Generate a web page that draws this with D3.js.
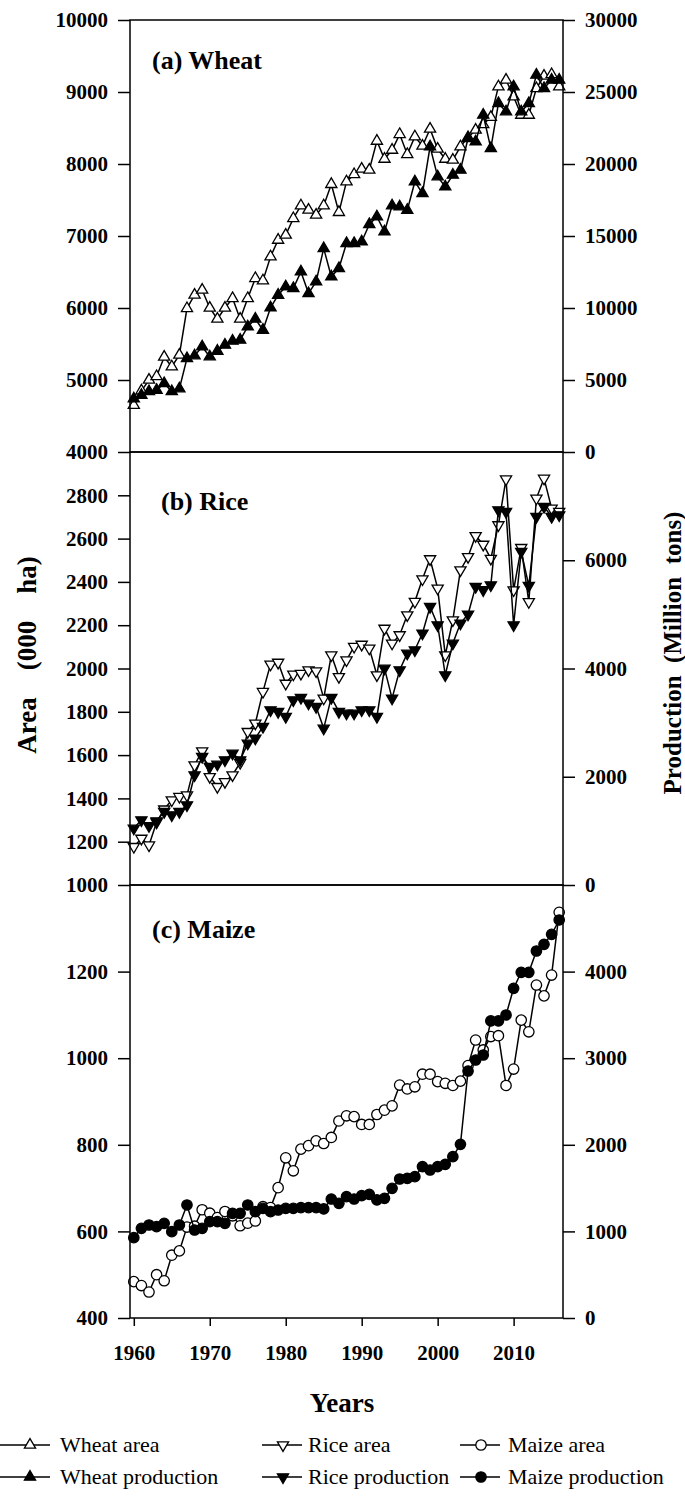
<!DOCTYPE html>
<html>
<head>
<meta charset="utf-8">
<script src="https://cdn.jsdelivr.net/npm/d3@7/dist/d3.min.js"></script>
<style>
  body { margin: 0; background: #fff; }
  svg { display: block; }
  text { font-family: "Liberation Serif", "Times New Roman", Times, serif; fill: #000; }
</style>
</head>
<body>
<svg id="chart" width="685" height="1497"></svg>
<script>
// Years of record
const years = d3.range(1960, 2017);

// Wheat: area (000 ha) and production
const wheatArea = [4650, 4850, 5000, 5050, 5320, 5185, 5347, 5995, 6181, 6250,
  6000, 5847, 6000, 6134, 5847, 6134, 6412, 6380, 6713, 6944,
  7014, 7245, 7421, 7361, 7292, 7421, 7718, 7329, 7755, 7856,
  7931, 7917, 8319, 8069, 8194, 8412, 8134, 8380, 8250, 8486,
  8208, 8069, 8056, 8241, 8370, 8472, 8550, 8650, 9074, 9167,
  8935, 8680, 8680, 9050, 9222, 9245, 9074];
const wheatProd = [3700, 3950, 4200, 4300, 4767, 4200, 4400, 6503, 6690, 7313,
  6620, 7010, 7430, 7710, 7780, 8702, 9235, 8470, 10021, 10901,
  11480, 11365, 12522, 11017, 11828, 14142, 12175, 12754, 14490, 14490,
  14605, 15809, 16342, 15300, 17106, 17037, 16800, 18772, 17962, 21203,
  19120, 18425, 19235, 19582, 21782, 21550, 23402, 21087, 24212, 23634,
  25370, 23634, 24212, 26180, 25254, 25833, 25833];

// Rice: area (000 ha) and production
const riceArea = [1177, 1215, 1184, 1290, 1350, 1392, 1408, 1415, 1554, 1619,
  1500, 1454, 1477, 1508, 1565, 1708, 1747, 1893, 2019, 2028,
  1931, 1973, 1977, 1993, 1988, 1862, 2062, 1962, 2039, 2101,
  2111, 2093, 1970, 2185, 2116, 2155, 2247, 2309, 2413, 2506,
  2370, 2062, 2224, 2455, 2516, 2613, 2573, 2508, 2663, 2875,
  2362, 2558, 2308, 2786, 2878, 2740, 2725];
const riceProd = [1047, 1200, 1093, 1182, 1354, 1293, 1354, 1478, 2032, 2371,
  2186, 2229, 2309, 2432, 2309, 2617, 2710, 2925, 3233, 3202,
  3110, 3418, 3461, 3356, 3294, 2894, 3461, 3202, 3171, 3171,
  3233, 3233, 3110, 4003, 3449, 3972, 4280, 4342, 4650, 5142,
  4804, 3880, 4465, 4835, 5001, 5512, 5451, 5543, 6928, 6897,
  4804, 6159, 5531, 6805, 6990, 6805, 6836];

// Maize: area (000 ha) and production
const maizeArea = [484, 475, 460, 500, 486, 545, 555, 610, 612, 650,
  642, 632, 646, 636, 613, 619, 624, 657, 655, 701,
  770, 740, 790, 798, 809, 803, 817, 855, 867, 865,
  847, 847, 870, 880, 890, 938, 929, 934, 963, 963,
  946, 942, 937, 947, 983, 1042, 1019, 1050, 1052, 937,
  975, 1088, 1061, 1169, 1144, 1192, 1337];
const maizeProd = [928, 1035, 1074, 1055, 1093, 997, 1074, 1305, 1016, 1035,
  1113, 1113, 1093, 1209, 1209, 1305, 1228, 1266, 1228, 1247,
  1266, 1266, 1274, 1274, 1274, 1259, 1374, 1324, 1401, 1374,
  1413, 1428, 1363, 1382, 1497, 1605, 1613, 1632, 1748, 1709,
  1748, 1775, 1863, 2005, 2852, 2979, 3037, 3430, 3430, 3499,
  3807, 3992, 3992, 4238, 4315, 4430, 4596];

// Axis tick values
const yearTicks = [1960, 1970, 1980, 1990, 2000, 2010];
const wheatAreaTicks = [4000, 5000, 6000, 7000, 8000, 9000, 10000];
const wheatProdTicks = [0, 5000, 10000, 15000, 20000, 25000, 30000];
const riceAreaTicks = [1000, 1200, 1400, 1600, 1800, 2000, 2200, 2400, 2600, 2800];
const riceProdTicks = [0, 2000, 4000, 6000];
const maizeAreaTicks = [400, 600, 800, 1000, 1200];
const maizeProdTicks = [0, 1000, 2000, 3000, 4000];

const FONT = "'Liberation Serif','Times New Roman',Times,serif";
const svg = d3.select("#chart");
const left = 130, right = 563;
const x = d3.scaleLinear().domain([1959.5, 2016.5]).range([left, right]);

// Marker shapes
function triPath(dir) {
  const w = 5.6, h = 9.6;            // half width, full height
  const a = h * 2 / 3, b = h / 3;     // centroid offsets
  return dir === "up"
    ? `M0,${-a}L${w},${b}L${-w},${b}Z`
    : `M0,${a}L${w},${-b}L${-w},${-b}Z`;
}

const panels = [
  { label: "(a) Wheat", lx: 152, ly: 69, top: 20, bottom: 452,
    area: wheatArea, prod: wheatProd,
    areaDomain: [4000, 10000], areaTicks: wheatAreaTicks,
    prodDomain: [0, 30000], prodTicks: wheatProdTicks, shape: "up" },
  { label: "(b) Rice", lx: 161, ly: 510, top: 452, bottom: 885,
    area: riceArea, prod: riceProd,
    areaDomain: [1000, 3000], areaTicks: riceAreaTicks,
    prodDomain: [0, 8000], prodTicks: riceProdTicks, shape: "down" },
  { label: "(c) Maize", lx: 152, ly: 938, top: 885, bottom: 1318,
    area: maizeArea, prod: maizeProd,
    areaDomain: [400, 1400], areaTicks: maizeAreaTicks,
    prodDomain: [0, 5000], prodTicks: maizeProdTicks, shape: "circle" }
];

function styleAxis(g) {
  g.attr("font-family", null).attr("font-size", null);
  g.select(".domain").remove();
  g.selectAll(".tick line").attr("stroke", "#000").attr("stroke-width", 1.5);
  g.selectAll(".tick text")
    .style("font-family", FONT).style("font-size", "21px").style("font-weight", "bold")
    .attr("fill", "#000");
}

function drawMarkers(g, pts, shape, filled) {
  const fill = filled ? "#000" : "#fff";
  if (shape === "circle") {
    g.selectAll(null).data(pts).join("circle")
      .attr("cx", d => d[0]).attr("cy", d => d[1]).attr("r", 5.2)
      .attr("fill", fill).attr("stroke", "#000").attr("stroke-width", 1.3);
  } else {
    g.selectAll(null).data(pts).join("path")
      .attr("d", triPath(shape))
      .attr("transform", d => `translate(${d[0]},${d[1]})`)
      .attr("fill", fill).attr("stroke", "#000").attr("stroke-width", 1.3)
      .attr("stroke-linejoin", "miter");
  }
}

panels.forEach(p => {
  const yA = d3.scaleLinear().domain(p.areaDomain).range([p.bottom, p.top]);
  const yP = d3.scaleLinear().domain(p.prodDomain).range([p.bottom, p.top]);
  const g = svg.append("g");

  const line = d3.line().x(d => d[0]).y(d => d[1]);
  const areaPts = years.map((yr, i) => [x(yr), yA(p.area[i])]);
  const prodPts = years.map((yr, i) => [x(yr), yP(p.prod[i])]);

  const series = g.append("g");
  series.append("path").attr("d", line(areaPts))
    .attr("fill", "none").attr("stroke", "#000").attr("stroke-width", 1.5);
  drawMarkers(series.append("g"), areaPts, p.shape, false);
  series.append("path").attr("d", line(prodPts))
    .attr("fill", "none").attr("stroke", "#000").attr("stroke-width", 1.5);
  drawMarkers(series.append("g"), prodPts, p.shape, true);

  // frame
  g.append("rect").attr("x", left).attr("y", p.top)
    .attr("width", right - left).attr("height", p.bottom - p.top)
    .attr("fill", "none").attr("stroke", "#000").attr("stroke-width", 1.5);

  g.append("g").attr("transform", `translate(${left},0)`)
    .call(d3.axisLeft(yA).tickValues(p.areaTicks).tickSize(12).tickPadding(10).tickFormat(d3.format("d")))
    .call(styleAxis);
  g.append("g").attr("transform", `translate(${right},0)`)
    .call(d3.axisRight(yP).tickValues(p.prodTicks).tickSize(12).tickPadding(10).tickFormat(d3.format("d")))
    .call(styleAxis);

  g.append("text").attr("x", p.lx).attr("y", p.ly)
    .attr("font-size", 26).attr("font-weight", "bold").text(p.label);
});

// x axis under the bottom panel
svg.append("g").attr("transform", "translate(0,1318)")
  .call(d3.axisBottom(x).tickValues(yearTicks).tickSize(8).tickPadding(19).tickFormat(d3.format("d")))
  .call(styleAxis);

// axis titles
svg.append("text").attr("transform", "translate(27,655) rotate(-90)")
  .attr("text-anchor", "middle").attr("dy", "0.35em")
  .attr("font-size", 27).attr("font-weight", "bold")
  .style("white-space", "pre").text("Area    (000    ha)");
svg.append("text").attr("transform", "translate(672,653) rotate(-90)")
  .attr("text-anchor", "middle").attr("dy", "0.35em")
  .attr("font-size", 25).attr("font-weight", "bold")
  .style("white-space", "pre").text("Production  (Million  tons)");
svg.append("text").attr("x", 342).attr("y", 1403).attr("dy", "0.35em")
  .attr("text-anchor", "middle").attr("font-size", 27).attr("font-weight", "bold")
  .text("Years");

// legend
const legendItems = [
  { name: "Wheat area", shape: "up", filled: false, col: 0, row: 0 },
  { name: "Wheat production", shape: "up", filled: true, col: 0, row: 1 },
  { name: "Rice area", shape: "down", filled: false, col: 1, row: 0 },
  { name: "Rice production", shape: "down", filled: true, col: 1, row: 1 },
  { name: "Maize area", shape: "circle", filled: false, col: 2, row: 0 },
  { name: "Maize production", shape: "circle", filled: true, col: 2, row: 1 }
];
const legCols = [{ x0: 0, x1: 50, m: 30, t: 60 }, { x0: 262, x1: 302, m: 283, t: 308 }, { x0: 460, x1: 500, m: 481, t: 508 }];
const legRows = [1445, 1477];
const leg = svg.append("g");
legendItems.forEach(it => {
  const c = legCols[it.col], yy = legRows[it.row];
  leg.append("line").attr("x1", c.x0).attr("x2", c.x1).attr("y1", yy).attr("y2", yy)
    .attr("stroke", "#000").attr("stroke-width", 1.5);
  drawMarkers(leg.append("g"), [[c.m, yy]], it.shape, it.filled);
  leg.append("text").attr("x", c.t).attr("y", yy).attr("dy", "0.33em")
    .attr("font-size", 22).text(it.name);
});
</script>
</body>
</html>
